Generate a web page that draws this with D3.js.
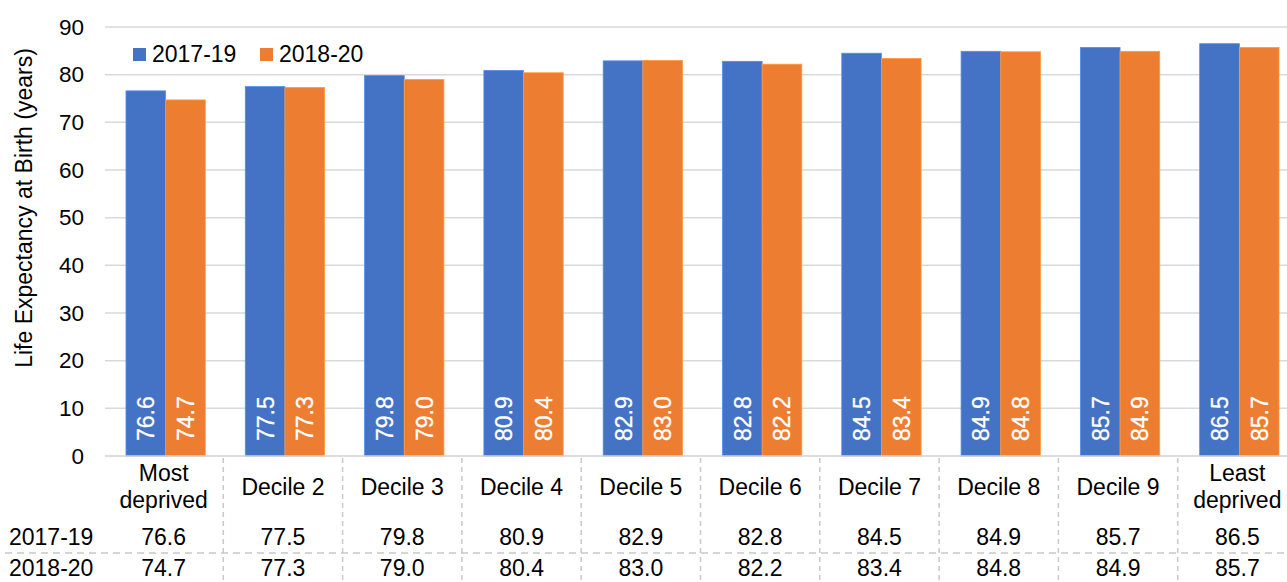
<!DOCTYPE html>
<html><head><meta charset="utf-8">
<script src="https://cdn.jsdelivr.net/npm/d3@7/dist/d3.min.js"></script>
<style>
html,body{margin:0;padding:0;background:#fff;}
svg{display:block;font-family:"Liberation Sans",Arial,sans-serif;}
</style></head>
<body><svg id="c" width="1287" height="582"></svg>
<script>
const categories = [["Most","deprived"],["Decile 2"],["Decile 3"],["Decile 4"],["Decile 5"],["Decile 6"],["Decile 7"],["Decile 8"],["Decile 9"],["Least","deprived"]];
const seriesNames = ["2017-19","2018-20"];
const values2017_19 = [76.6,77.5,79.8,80.9,82.9,82.8,84.5,84.9,85.7,86.5];
const values2018_20 = [74.7,77.3,79.0,80.4,83.0,82.2,83.4,84.8,84.9,85.7];
const yTicks = [0,10,20,30,40,50,60,70,80,90];
const colors = ["#4472C4","#ED7D31"];

const series = [values2017_19, values2018_20];
const svg = d3.select("#c");
const keys = categories.map((c,i)=>"c"+i);
const pLeft = 104, pRight = 1297, pTop = 27, pBottom = 456;
const FS = "23px";

const y = d3.scaleLinear().domain([0,90]).range([pBottom, pTop]);
const xt = d3.scaleBand().domain(keys).range([pLeft,pRight]).padding(0);
const x0 = d3.scaleBand().domain(keys).range([pLeft+2,pRight+2]).paddingInner(0.335).paddingOuter(0.1675);
const x1 = d3.scaleBand().domain(seriesNames).range([0, x0.bandwidth()]);

// gridlines
const grid = svg.append("g");
grid.selectAll("line").data(yTicks.filter(t=>t>0)).join("line")
  .attr("x1", pLeft+1).attr("x2", 1287)
  .attr("y1", d=>y(d)).attr("y2", d=>y(d))
  .attr("stroke","#d9d9d9").attr("stroke-width",1.5);

// y axis labels
const yAxis = d3.axisLeft(y).tickValues(yTicks).tickSize(0).tickPadding(0);
const ya = svg.append("g").attr("transform","translate(84,0)").call(yAxis);
ya.select(".domain").remove();
ya.selectAll("text").attr("font-size","22.5px").attr("fill","#000").attr("font-family","Liberation Sans, Arial, sans-serif");

// y title
svg.append("text").attr("transform",`translate(32,208) rotate(-90)`)
  .attr("text-anchor","middle").attr("font-size",FS).attr("fill","#000")
  .text("Life Expectancy at Birth (years)");

// bars
const gCat = svg.append("g").selectAll("g").data(keys).join("g")
  .attr("transform", d=>`translate(${x0(d)},0)`);
gCat.each(function(k, i){
  const g = d3.select(this);
  seriesNames.forEach((s, j)=>{
    const v = series[j][i];
    g.append("rect").attr("x", x1(s)).attr("width", x1.bandwidth())
      .attr("y", y(v)).attr("height", y(0)-y(v))
      .attr("fill", colors[j]).attr("stroke", d3.color(colors[j]).brighter(0.6)).attr("stroke-width",0.8);
    const cx = x1(s) + x1.bandwidth()/2;
    g.append("text").attr("transform", `translate(${cx+8.5},${pBottom-15}) rotate(-90)`)
      .attr("font-size","23px").attr("fill","#fff").attr("text-anchor","start")
      .attr("stroke","#fff").attr("stroke-width",0.3)
      .text(v.toFixed(1));
  });
});

// baseline
svg.append("line").attr("x1", pLeft+1).attr("x2",1287).attr("y1",y(0)).attr("y2",y(0))
  .attr("stroke","#d0d0d0").attr("stroke-width",1.5);

// table separators
svg.append("g").selectAll("line").data(keys.slice(1)).join("line")
  .attr("x1", d=>xt(d)).attr("x2", d=>xt(d)).attr("y1", pBottom+2).attr("y2", 582)
  .attr("stroke","#c8c8c8").attr("stroke-width",1.5).attr("stroke-dasharray","5,4");
svg.append("line").attr("x1",5).attr("x2",1287).attr("y1",553).attr("y2",553)
  .attr("stroke","#c8c8c8").attr("stroke-width",1.5).attr("stroke-dasharray","7,5");

// category labels
const cl = svg.append("g").selectAll("text").data(categories).join("text")
  .attr("text-anchor","middle").attr("font-size",FS).attr("fill","#000")
  .attr("x",(d,i)=>xt(keys[i])+xt.bandwidth()/2);
cl.each(function(d){
  const t = d3.select(this);
  if(d.length===1){ t.append("tspan").attr("y",495).text(d[0]); }
  else { d.forEach((l,k)=>t.append("tspan").attr("x",t.attr("x")).attr("y",481+k*27).text(l)); }
});

// table rows
const rowY = [545, 576];
series.forEach((vals, j)=>{
  svg.append("text").attr("x",9).attr("y",rowY[j]).attr("font-size",FS).attr("fill","#000").text(seriesNames[j]);
  svg.append("g").selectAll("text").data(vals).join("text")
    .attr("x",(d,i)=>xt(keys[i])+xt.bandwidth()/2).attr("y",rowY[j])
    .attr("text-anchor","middle").attr("font-size",FS).attr("fill","#000")
    .text(d=>d.toFixed(1));
});

// legend
const lg = svg.append("g");
const legX = [133, 260];
seriesNames.forEach((s,j)=>{
  lg.append("rect").attr("x",legX[j]).attr("y",48).attr("width",13).attr("height",13).attr("fill",colors[j]);
  lg.append("text").attr("x",legX[j]+19).attr("y",62).attr("font-size",FS).attr("fill","#000").text(s);
});
</script></body></html>
